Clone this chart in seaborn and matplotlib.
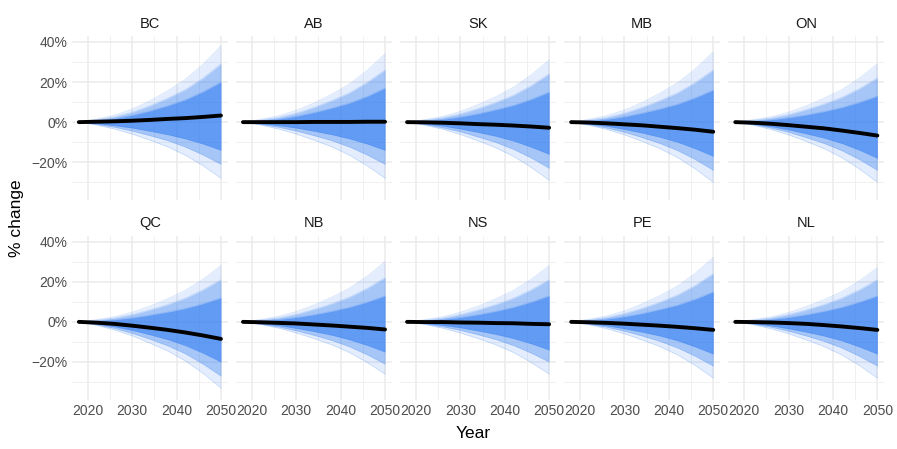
import pandas as pd
import numpy as np
import matplotlib
matplotlib.use("Agg")
import matplotlib.pyplot as plt
import seaborn as sns
from matplotlib.ticker import FixedLocator, FuncFormatter

# provinces in panel order
provinces = ["BC", "AB", "SK", "MB", "ON", "QC", "NB", "NS", "PE", "NL"]
years = [2018, 2022, 2026, 2030, 2034, 2038, 2042, 2046, 2050]

# % change (mean projection = black line)
mean_path = [
    [0, 0.2, 0.4, 0.7, 1.1, 1.6, 2.0, 2.6, 3.3],
    [0, 0.0, 0.0, 0.0, 0.1, 0.1, 0.1, 0.2, 0.2],
    [0, -0.1, -0.3, -0.6, -1.0, -1.3, -1.7, -2.2, -2.8],
    [0, -0.2, -0.6, -1.1, -1.6, -2.3, -3.0, -3.8, -4.8],
    [0, -0.3, -0.8, -1.5, -2.3, -3.1, -4.2, -5.4, -6.7],
    [0, -0.4, -1.0, -1.9, -2.9, -4.0, -5.3, -6.8, -8.5],
    [0, -0.2, -0.5, -0.8, -1.3, -1.8, -2.4, -3.0, -3.8],
    [0, -0.1, -0.1, -0.3, -0.4, -0.6, -0.7, -1.0, -1.2],
    [0, -0.2, -0.5, -0.9, -1.4, -1.9, -2.5, -3.2, -4.0],
    [0, -0.1, -0.3, -0.6, -1.0, -1.6, -2.3, -3.1, -4.0],
]
# faint outer edge of the simulation fan
outer_hi = [
    [0, 1.5, 3.4, 6.5, 10.6, 15.6, 21.3, 28.9, 38],
    [0, 1.4, 3.1, 5.8, 9.5, 13.9, 19.0, 25.8, 34],
    [0, 1.2, 2.8, 5.3, 8.7, 12.7, 17.4, 23.6, 31],
    [0, 1.4, 3.2, 6.0, 9.8, 14.4, 19.6, 26.6, 35],
    [0, 1.2, 2.6, 4.9, 8.1, 11.9, 16.2, 22.0, 29],
    [0, 1.1, 2.5, 4.8, 7.8, 11.5, 15.7, 21.3, 28],
    [0, 1.2, 2.7, 5.1, 8.4, 12.3, 16.8, 22.8, 30],
    [0, 1.1, 2.5, 4.8, 7.8, 11.5, 15.7, 21.3, 28],
    [0, 1.3, 2.9, 5.4, 9.0, 13.1, 17.9, 24.3, 32],
    [0, 1.1, 2.4, 4.6, 7.6, 11.1, 15.1, 20.5, 27],
]
outer_lo = [
    [0, -1.4, -3.4, -5.9, -9.0, -12.3, -16.5, -21.8, -28],
    [0, -1.4, -3.4, -5.9, -9.0, -12.3, -16.5, -21.8, -28],
    [0, -1.5, -3.5, -6.1, -9.3, -12.8, -17.1, -22.6, -29],
    [0, -1.5, -3.6, -6.3, -9.6, -13.2, -17.7, -23.4, -30],
    [0, -1.5, -3.6, -6.3, -9.6, -13.2, -17.7, -23.4, -30],
    [0, -1.7, -4.0, -6.9, -10.6, -14.5, -19.5, -25.7, -33],
    [0, -1.3, -3.1, -5.5, -8.3, -11.4, -15.3, -20.3, -26],
    [0, -1.3, -3.1, -5.5, -8.3, -11.4, -15.3, -20.3, -26],
    [0, -1.4, -3.4, -5.9, -9.0, -12.3, -16.5, -21.8, -28],
    [0, -1.4, -3.4, -5.9, -9.0, -12.3, -16.5, -21.8, -28],
]
# middle part of the fan
mid_hi = [
    [0, 1.2, 2.6, 4.9, 8.1, 11.9, 16.2, 22.0, 29],
    [0, 1.0, 2.3, 4.4, 7.3, 10.7, 14.6, 19.8, 26],
    [0, 1.0, 2.2, 4.1, 6.7, 9.8, 13.4, 18.2, 24],
    [0, 1.0, 2.3, 4.4, 7.3, 10.7, 14.6, 19.8, 26],
    [0, 0.9, 2.0, 3.7, 6.2, 9.0, 12.3, 16.7, 22],
    [0, 0.8, 1.9, 3.6, 5.9, 8.6, 11.8, 16.0, 21],
    [0, 0.9, 2.0, 3.7, 6.2, 9.0, 12.3, 16.7, 22],
    [0, 0.8, 1.9, 3.6, 5.9, 8.6, 11.8, 16.0, 21],
    [0, 1.0, 2.2, 4.1, 6.7, 9.8, 13.4, 18.2, 24],
    [0, 0.8, 1.9, 3.6, 5.9, 8.6, 11.8, 16.0, 21],
]
mid_lo = [
    [0, -1.1, -2.5, -4.4, -6.7, -9.2, -12.4, -16.4, -21],
    [0, -1.1, -2.5, -4.4, -6.7, -9.2, -12.4, -16.4, -21],
    [0, -1.2, -2.8, -4.8, -7.4, -10.1, -13.6, -17.9, -23],
    [0, -1.2, -2.9, -5.0, -7.7, -10.6, -14.2, -18.7, -24],
    [0, -1.2, -2.9, -5.0, -7.7, -10.6, -14.2, -18.7, -24],
    [0, -1.4, -3.2, -5.7, -8.6, -11.9, -15.9, -21.1, -27],
    [0, -1.1, -2.5, -4.4, -6.7, -9.2, -12.4, -16.4, -21],
    [0, -1.0, -2.4, -4.2, -6.4, -8.8, -11.8, -15.6, -20],
    [0, -1.1, -2.6, -4.6, -7.0, -9.7, -13.0, -17.2, -22],
    [0, -1.1, -2.6, -4.6, -7.0, -9.7, -13.0, -17.2, -22],
]
# dense core of the fan
inner_hi = [
    [0, 0.8, 1.8, 3.4, 5.6, 8.2, 11.2, 15.2, 20],
    [0, 0.7, 1.5, 2.9, 4.8, 7.0, 9.5, 12.9, 17],
    [0, 0.6, 1.4, 2.6, 4.2, 6.2, 8.4, 11.4, 15],
    [0, 0.6, 1.4, 2.7, 4.5, 6.6, 9.0, 12.2, 16],
    [0, 0.5, 1.2, 2.2, 3.6, 5.3, 7.3, 9.9, 13],
    [0, 0.5, 1.1, 2.0, 3.4, 4.9, 6.7, 9.1, 12],
    [0, 0.5, 1.2, 2.2, 3.6, 5.3, 7.3, 9.9, 13],
    [0, 0.5, 1.2, 2.2, 3.6, 5.3, 7.3, 9.9, 13],
    [0, 0.6, 1.4, 2.6, 4.2, 6.2, 8.4, 11.4, 15],
    [0, 0.5, 1.2, 2.2, 3.6, 5.3, 7.3, 9.9, 13],
]
inner_lo = [
    [0, -0.7, -1.7, -2.9, -4.5, -6.2, -8.3, -10.9, -14],
    [0, -0.7, -1.7, -2.9, -4.5, -6.2, -8.3, -10.9, -14],
    [0, -0.8, -1.9, -3.4, -5.1, -7.0, -9.4, -12.5, -16],
    [0, -0.9, -2.0, -3.6, -5.4, -7.5, -10.0, -13.3, -17],
    [0, -0.9, -2.2, -3.8, -5.8, -7.9, -10.6, -14.0, -18],
    [0, -1.0, -2.4, -4.2, -6.4, -8.8, -11.8, -15.6, -20],
    [0, -0.8, -1.8, -3.2, -4.8, -6.6, -8.9, -11.7, -15],
    [0, -0.7, -1.7, -2.9, -4.5, -6.2, -8.3, -10.9, -14],
    [0, -0.8, -1.9, -3.4, -5.1, -7.0, -9.4, -12.5, -16],
    [0, -0.8, -1.9, -3.4, -5.1, -7.0, -9.4, -12.5, -16],
]

rows = []
for i, p in enumerate(provinces):
    for j, y in enumerate(years):
        rows.append({"prov": p, "year": y, "mean": mean_path[i][j],
                     "outer_hi": outer_hi[i][j], "outer_lo": outer_lo[i][j],
                     "mid_hi": mid_hi[i][j], "mid_lo": mid_lo[i][j],
                     "inner_hi": inner_hi[i][j], "inner_lo": inner_lo[i][j]})
df = pd.DataFrame(rows)

sns.set_theme(style="whitegrid")
plt.rcParams["font.family"] = ["Liberation Sans", "DejaVu Sans"]

blue = "#2a78f0"


def fan(data, **kws):
    ax = plt.gca()
    bands = [("outer", 0.13), ("mid", 0.33), ("inner", 0.55)]
    for name, a in bands:
        ax.fill_between(data["year"], data[name + "_lo"], data[name + "_hi"],
                        color=blue, alpha=a, lw=0)
        for side in ["_hi", "_lo"]:
            ax.plot(data["year"], data[name + side], color=blue,
                    alpha=0.2, lw=0.6)


g = sns.FacetGrid(df, col="prov", col_wrap=5, col_order=provinces,
                  sharex=True, sharey=True, height=2, aspect=1)
g.map_dataframe(fan)
g.map_dataframe(sns.lineplot, x="year", y="mean", color="black", lw=2.8)
g.set_titles("{col_name}", size=10.5, color="#1a1a1a")
g.set_axis_labels("", "")

fig = g.figure
fig.set_size_inches(8.97, 4.49)
fig.subplots_adjust(left=0.080, right=0.986, top=0.92, bottom=0.109,
                    wspace=0.05, hspace=0.215)

for ax in g.axes.flat:
    ax.set_xlim(2016.4, 2051.6)
    ax.set_ylim(-39, 43)
    ax.xaxis.set_major_locator(FixedLocator([2020, 2030, 2040, 2050]))
    ax.xaxis.set_minor_locator(FixedLocator([2025, 2035, 2045]))
    ax.yaxis.set_major_locator(FixedLocator([-20, 0, 20, 40]))
    ax.yaxis.set_minor_locator(FixedLocator([-30, -10, 10, 30]))
    ax.yaxis.set_major_formatter(FuncFormatter(
        lambda v, pos: f"{int(v)}%".replace("-", "\u2212")))
    ax.grid(which="major", color="#ebebeb", lw=1.1)
    ax.grid(which="minor", color="#f0f0f0", lw=0.7)
    ax.tick_params(which="both", length=0, labelsize=10,
                   labelcolor="#4d4d4d", pad=3)
    for s in ax.spines.values():
        s.set_visible(False)
    ax.set_axisbelow(True)

fig.text(0.527, 0.035, "Year", ha="center", va="center", fontsize=12.5,
         color="black")
fig.text(0.018, 0.515, "% change", ha="center", va="center", rotation=90,
         fontsize=12.5, color="black")

fig.savefig("out.png", dpi=100)
